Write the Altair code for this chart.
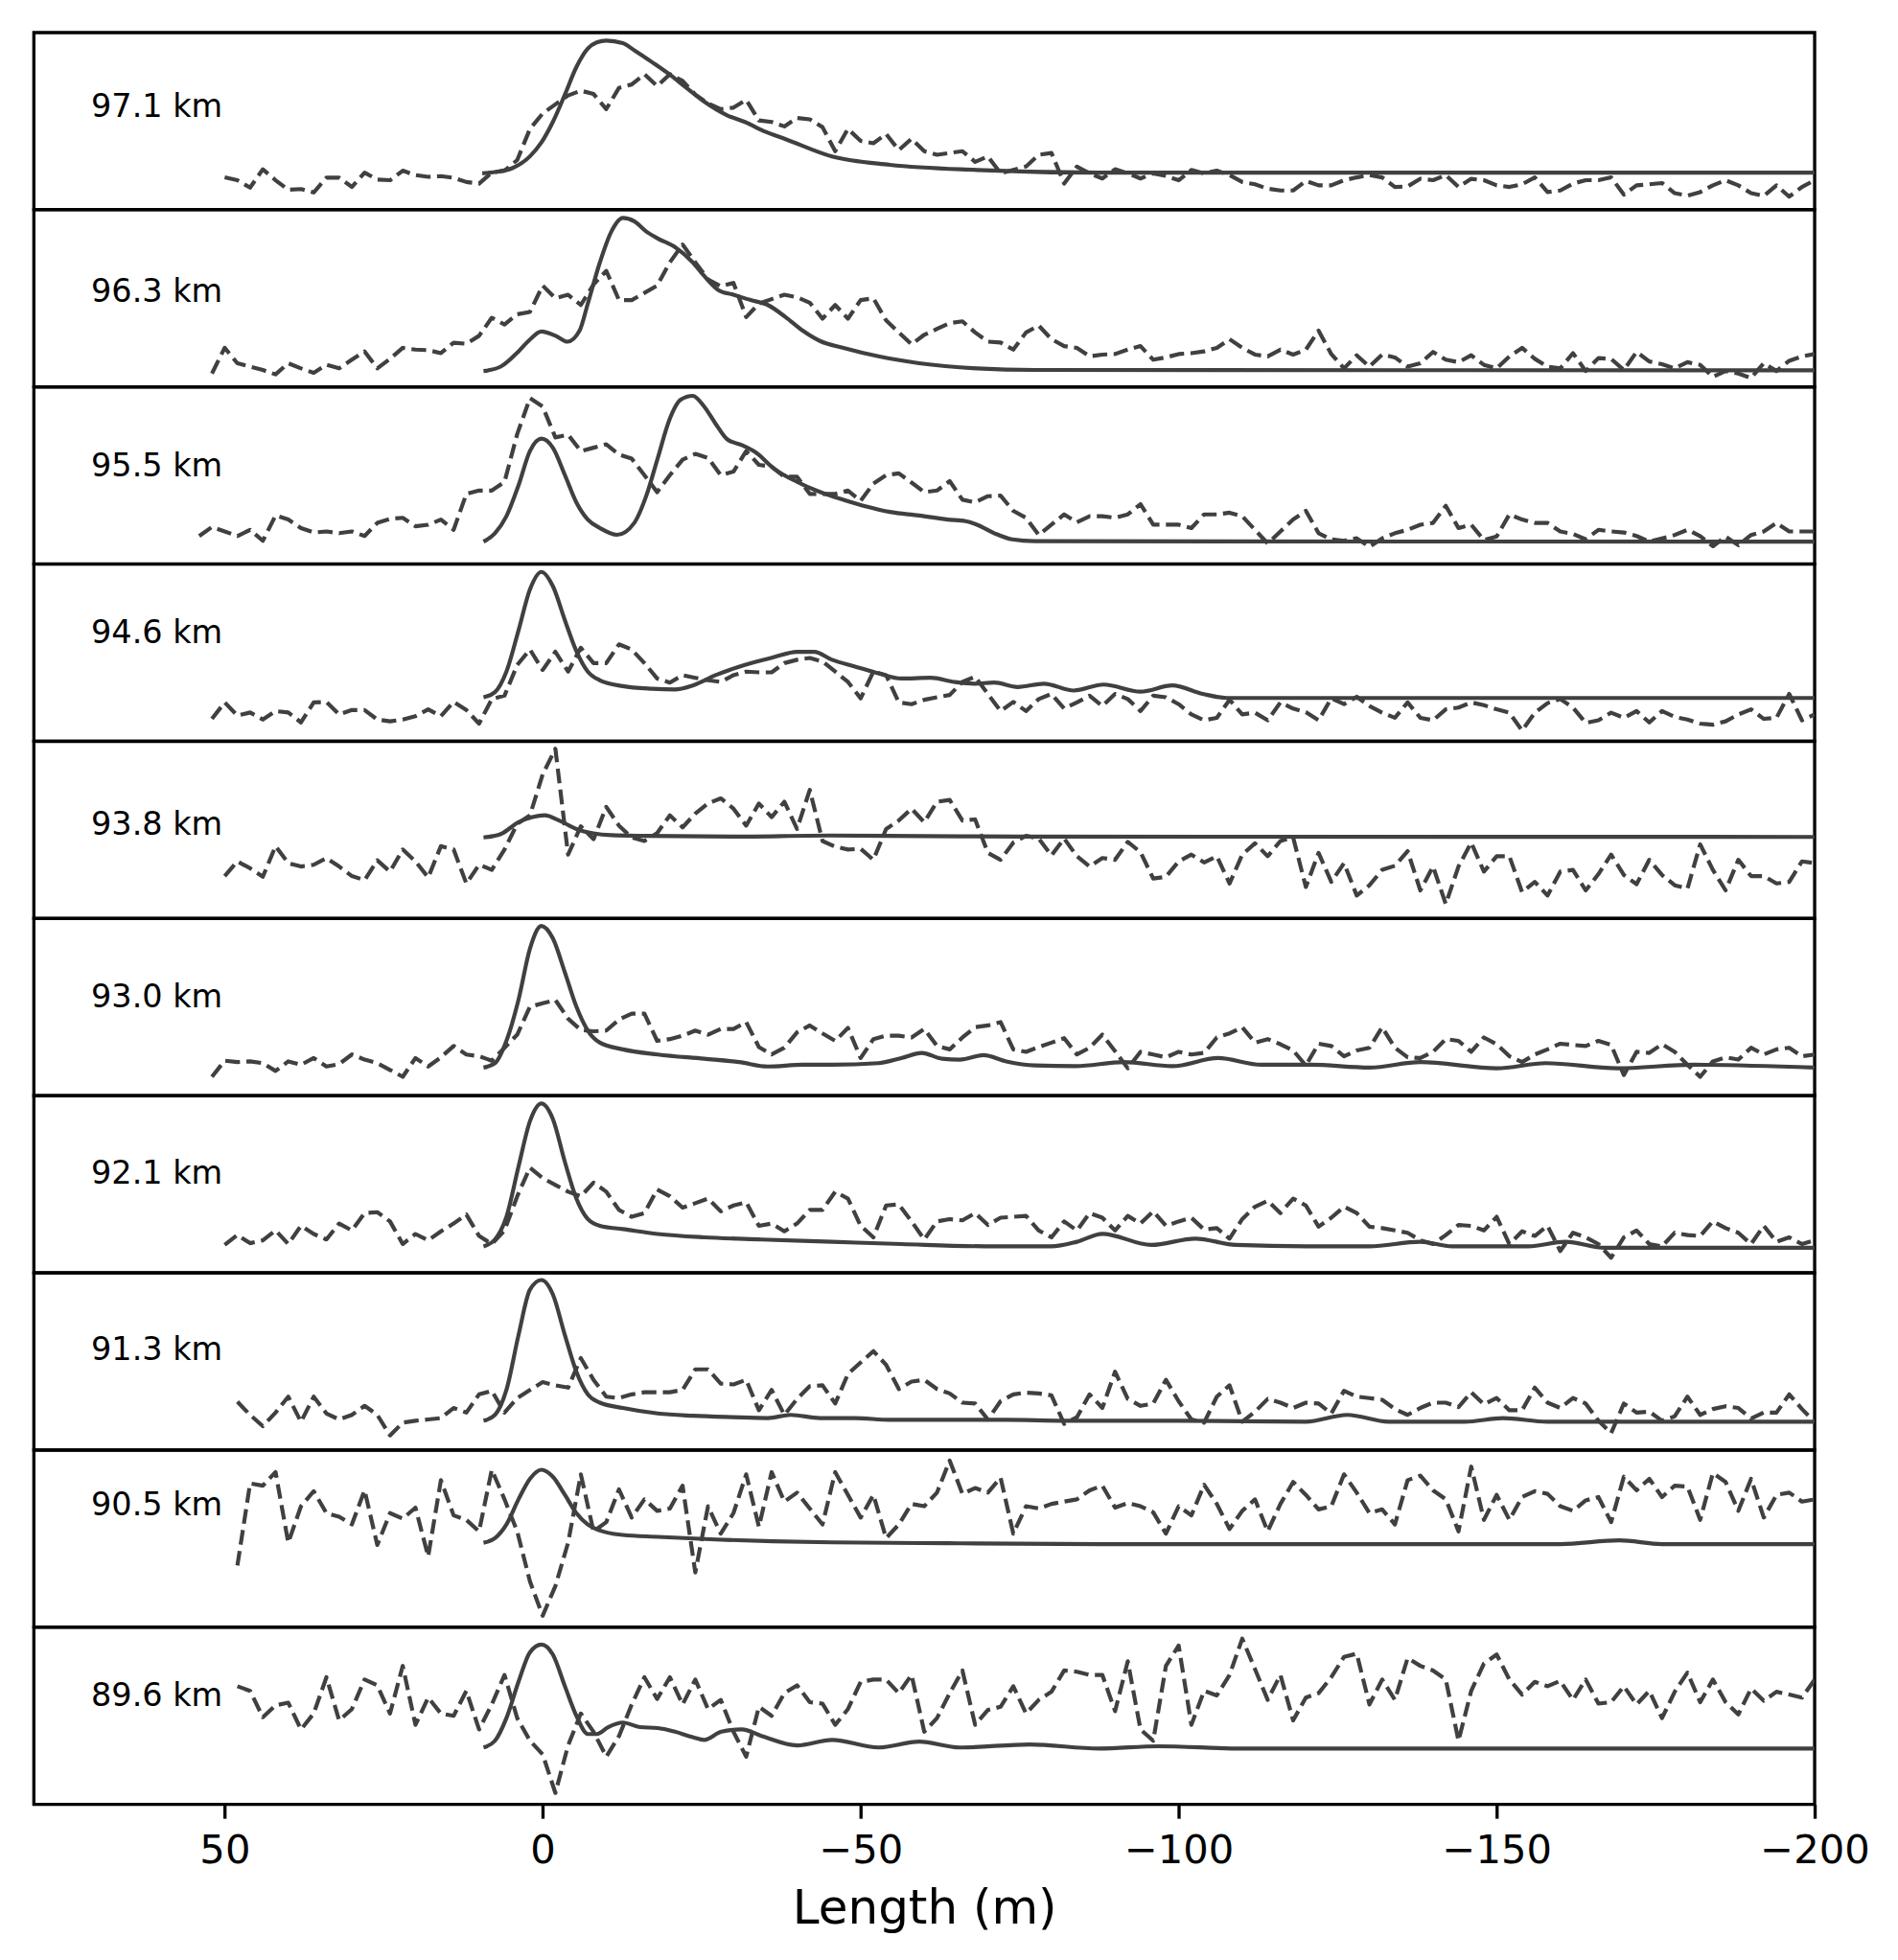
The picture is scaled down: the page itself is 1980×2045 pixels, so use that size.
import altair as alt
import pandas as pd

# ---------------- data ----------------
LABELS = ["97.1 km", "96.3 km", "95.5 km", "94.6 km", "93.8 km",
          "93.0 km", "92.1 km", "91.3 km", "90.5 km", "89.6 km"]
LABEL_HEIGHT = [58, 53.5, 55, 61, 52.5, 55, 55.6, 56, 68.8, 61]
LABEL_X = 71

# dashed (measured) profiles, sampled every 2 m starting at DASH_START
DASH_START = [50, 52, 54, 52, 50, 52, 50, 48, 48, 48]
DASH_STEP = 2

DASH_971 = [18.2, 16.6, 12.4, 22.8, 16.6, 11.2, 11.6, 9.7, 18, 18, 12.8, 20.9, 17, 16.6, 22, 19.5, 18.5, 18.9, 18, 15.6,
            14.7, 20.9, 22, 28, 45.6, 54.3, 59.5, 64.5, 67.2, 65.3, 56.8, 68.8, 70.7, 76.5, 69.8, 76.5, 72.7, 65, 60, 56.8,
            57.6, 62, 50.4, 49.5, 47, 51.8, 51, 46.6, 33, 45.6, 38.8, 37.5, 42.7, 33.6, 40, 33, 31, 32, 33, 27,
            30, 20.5, 22.4, 24.3, 31, 32, 14.7, 24.3, 20.5,
            17.6, 22.8, 20.5, 17.6, 20.5, 19, 16.6, 22.4, 20.5, 22, 19.5, 15.6, 14.3, 11.8, 10.8, 10.8, 16.2, 13.7, 13.7, 16.6,
            18.2, 19.5, 18.2, 12.8, 13.1, 17.4, 16.6, 19.5, 12.8, 17.4, 16.6, 13.7, 12.8, 14.3, 18.2, 9.9, 10.8, 14.7, 16.6, 16.6,
            18.2, 8.5, 13.7, 14.3, 15, 9.3, 7.9, 9.9, 13.7, 16.6, 13.7, 9.3, 7.7, 13.7, 7.3, 12.8, 16.6]

DASH_963 = [7.5, 22, 13.3, 11.4, 9.5, 7, 13.3, 10.4, 7.9, 12.4, 10.4, 15.3, 20, 10.4, 15.8, 22, 21, 20.7, 19, 24.9,
            24.3, 28.8, 39, 35.2, 41, 42.3, 57.2, 50, 52, 46.2, 57.8, 65.5, 49, 49, 53, 57.2, 70.3, 80.4, 70.3, 60.7,
            56.8, 58.7, 39.4, 47, 49.5, 52, 50.6, 47.5, 38.5, 46.2, 38.5, 49, 50, 37.5, 30.7, 24, 29.4, 32.7, 36, 37,
            30.7, 25.5, 25, 21, 30.7, 34.6, 26.9, 23, 22, 17.2,
            18.2, 18.5, 21, 23, 15.3, 16.6, 18.5, 19, 20, 22, 26.9, 22, 18.2, 17.2, 21, 18.2, 21, 31.7, 18.5, 10.4,
            17.8, 11.4, 18.2, 16.6, 11.4, 13.3, 19.7, 15.3, 13.9, 17.8, 12.4, 10.4, 17.2, 22, 15.8, 11.4, 10.4, 19, 8.9, 16.2,
            15.8, 9.5, 19.7, 14.3, 12.8, 10.4, 13.9, 12.4, 5.6, 8.9, 7.5, 5, 13.3, 8.9, 14.7, 17.2, 18.5]

DASH_955 = [15.8, 20.9, 18.4, 15.8, 19.3, 13.1, 27.4, 25.1, 20.3, 17.8, 18.4, 17.4, 18.4, 15.8, 23.2, 25.5, 26.1, 21.3, 22.2, 25.1,
            19.3, 39.6, 41.5, 41.5, 46.4, 73.4, 93.7, 88.9, 71.5, 73, 63.8, 65.7, 67.6, 61.8, 59.5, 50.2, 40.6, 50.2, 58.9, 62.2,
            59.9, 50.2, 52.2, 63.8, 56, 55, 49.3, 49.3, 39.6, 39.6, 39.6, 41.5, 35.7, 45.4, 50.2, 51.2, 46, 40.6, 41.5, 46.8,
            36.3, 34.8, 38.3, 38.6, 30, 26.1, 16.4, 22.2, 28, 23.6, 27,
            27, 26.1, 28, 33.8, 22.2, 22.2, 22.2, 20.3, 28, 28, 29, 27, 19.3, 11.6, 18.4, 25.1, 30, 17.4, 13.9, 13.1,
            14.5, 9.7, 14.5, 17.4, 19.3, 22.2, 23.2, 32.9, 20.3, 22.2, 13.5, 15.5, 28, 25.1, 23.2, 23.2, 18.4, 17, 13.9, 19.3,
            18.4, 17.8, 15.8, 12.6, 14.5, 16.4, 19.3, 15.8, 10, 15.5, 10.6, 16.4, 18.4, 23.2, 18.4, 18.4, 18.4]

DASH_946 = [12.6, 21.9, 14.5, 16.2, 12.2, 17, 16.2, 10.6, 21.9, 22.2, 15.1, 17.6, 17.6, 12.2, 11.2, 12.2, 14.1, 18, 14.1, 22.2,
            17.6, 9.9, 23.8, 25.7, 43.1, 51.8, 40.2, 50.5, 39.3, 52.8, 44.1, 44.1, 54.7, 51.8, 44.1, 35.4, 33.1, 37.3, 35.8, 34.4,
            33.5, 37.3, 39.3, 38.9, 38.9, 44.1, 46, 47, 45, 39.3, 33.5, 24.2, 39.3, 37.3, 21.9, 20.9, 23.4, 24.8, 26.1, 33.5,
            36.4, 26.7, 17, 22.2, 17, 23.8, 26.7, 18.4, 21.9, 25.7,
            19.9, 26.7, 23.8, 17, 25.7, 24.8, 20.9, 15.1, 11.8, 13.2, 23.4, 15.1, 16.1, 11.8, 21.9, 18.4, 16.4, 11.8, 24.2, 20.9,
            25.1, 19.9, 16.1, 13.2, 21.9, 13.2, 11.8, 18, 19, 21.9, 20.3, 18, 16.1, 6, 16.1, 21.5, 23.8, 19, 10.3, 11.8,
            16.1, 13.2, 17, 10.6, 17, 13.7, 12.2, 9.9, 9.3, 11.2, 15.1, 18, 12.6, 13.2, 26.7, 11.8, 15.1]

DASH_938 = [23.9, 32.2, 28.3, 23.5, 40.8, 31.2, 29.3, 30.3, 34.1, 29.3, 23.9, 21.6, 32.8, 26.4, 38.9, 32.2, 23.1, 40.8, 38.9, 19.7,
            30.3, 27.4, 38.9, 53.4, 58.2, 81.3, 95.8, 36, 52, 44.7, 63, 52.4, 45.7, 43.7, 48.2, 58.2, 51.4, 59.2, 64.9, 67.8,
            62, 52.4, 64.9, 57.2, 65.9, 50.5, 72.6, 43.7, 40.5, 38.9, 39.3, 33.1, 50.5, 55.3, 62, 54.3, 65.9, 66.9, 55.3, 55.9,
            37, 33.1, 42.8, 46.6, 45.1, 35.5, 45.1, 35.1, 29.3,
            34.1, 33.1, 43.2, 37.4, 22.5, 23.5, 32.2, 36, 31.6, 35.1, 19.7, 36, 42.4, 35.1, 43.7, 45.7, 17.7, 37, 20.6, 31.2,
            12.9, 18.7, 27.4, 29.7, 38, 15.8, 29.3, 8.1, 29.3, 42.8, 26.4, 35.1, 35.1, 14.8, 20.6, 12.9, 26.4, 27.4, 15.8, 25,
            36, 24.5, 19.3, 33.1, 24.5, 18.7, 16.8, 41.8, 27.4, 15.8, 33.1, 23.9, 23.9, 19.7, 20.6, 32.2, 31.2]

DASH_930 = [10.6, 19.7, 18.9, 19.3, 18.3, 13.9, 19.3, 17.4, 21.2, 16.4, 17.8, 23.2, 20.3, 18.3, 14.5, 10.6, 21.2, 16.4, 21.6, 28,
            23.2, 22.2, 19.7, 27, 34.4, 50.2, 52.1, 54, 43.4, 37, 36.3, 36.7, 42.9, 46.3, 46.3, 30.9, 31.9, 33.8, 36.7, 34.4,
            37.6, 37.6, 41.5, 27.4, 23.2, 27, 35.7, 39.6, 35.1, 30.9, 38.2, 21.2, 31.9, 33.8, 33.8, 32.8, 37.6, 28, 26.1, 32.8,
            38.6, 39.6, 41.5, 26.1, 24.7, 27.4, 29.9, 32.4, 23.2, 27,
            34.4, 25.1, 15.4, 24.7, 23.2, 21.6, 24.7, 23.2, 24.1, 32.8, 35.1, 38.6, 29.9, 31.9, 29, 25.5, 17, 29.3, 28, 22.2,
            25.5, 27, 38.6, 27, 21.6, 21.2, 24.7, 31.9, 30.9, 24.7, 32.8, 29, 22.2, 18.9, 23.2, 26.1, 29.3, 28.6, 28, 30.9,
            28.6, 11.6, 24.7, 24.1, 29, 24.7, 17.4, 10.6, 19.3, 21.6, 20.3, 27, 23.2, 26.1, 27, 22.2, 23.2]

DASH_921 = [15.7, 21.3, 16.7, 18.3, 23.9, 16.2, 26.5, 21.9, 18.8, 27.8, 23.9, 33.7, 34.2, 29, 16.2, 21.9, 18.3, 23.4, 27.8, 32.9,
            20.8, 16.2, 23.9, 43.2, 59.4, 53.5, 49.6, 45.8, 43.2, 50.9, 45.8, 35.5, 31.6, 33.7, 47, 43.2, 36.8, 39.3, 41.9, 34.7,
            38, 39.8, 26.5, 27.8, 23.4, 27.8, 35.5, 35.5, 45.8, 41.9, 26.5, 20, 38, 38.6, 29, 18.8, 29, 30.3, 29.6, 33.7,
            27, 31.1, 31.6, 32.1, 23.9, 20, 29, 23.9, 33.7,
            31.1, 23.9, 32.1, 27.8, 34.7, 26.5, 29, 31.1, 24.4, 25.2, 19.3, 30.3, 37.3, 40.6, 33.7, 41.9, 38, 26, 31.1, 37.3,
            33.7, 26, 25.2, 23.9, 22.6, 18.3, 16.2, 21.3, 27, 26.5, 23.9, 31.6, 16.2, 23.4, 20.8, 26.5, 12.3, 22.6, 20, 16.2,
            8.5, 20, 23.9, 16.2, 14.9, 22.6, 21.3, 20.8, 29, 25.2, 22.6, 16.2, 26.5, 17.5, 20, 16.2, 18.3]

DASH_913 = [27.2, 19.8, 13.4, 21.1, 30.1, 15.9, 30.1, 20.6, 17.2, 19.8, 24.9, 19.8, 8.2, 15.4, 16.5, 17.2, 18, 23.7, 21.1, 31.4,
            33.4, 21.1, 29.3, 33.9, 38.3, 36.5, 35.2, 51.9, 39.6, 30.1, 29.3, 31.4, 32.6, 32.6, 32.6, 33.9, 45.5, 45.5, 37.5, 37,
            39.6, 22.4, 33.9, 19.8, 28.8, 36, 36.5, 26.2, 42.9, 49.4, 55.8, 48.1, 34.4, 38.6, 39.6, 34.4, 31.9, 26.7, 26.2, 17.2,
            27.5, 31.4, 32.4, 31.9, 30.8, 14.7, 18.5, 31.4,
            23.7, 44.2, 28.8, 24.9, 26.2, 39.6, 27.5, 17.2, 15.4, 30.1, 36.5, 15.9, 21.6, 28.8, 26.7, 23.7, 26.7, 26.2, 20.6, 33.4,
            30.1, 29.3, 28.3, 23.1, 19.8, 23.7, 26.7, 26.7, 24.2, 32.6, 25.7, 29.3, 22.4, 22.4, 35.2, 26.7, 23.7, 29.3, 26.2, 16.5,
            9.5, 26.2, 21.1, 21.6, 16.5, 19, 30.1, 19.8, 23.1, 24.7, 23.7, 17.7, 21.1, 21.1, 31.4, 23.1, 15.9]

DASH_905 = [34.8, 81.2, 79.9, 87.6, 47.7, 68.3, 76.8, 64.4, 62.4, 58, 77.3, 46.4, 64.4, 61.3, 67.5, 39.9, 83, 63.1, 60.6, 54.1,
            88.9, 72.2, 54.1, 25.8, 6.4, 23.2, 47.7, 86.3, 54.1, 59.3, 77.8, 61.9, 72.2, 65.7, 67, 79.9, 30.9, 68.3, 52.8, 64.4,
            86.3, 56.7, 87.6, 70.9, 76, 67, 58, 87.6, 74.7, 61.9, 74.7, 50.3, 58, 69.6, 68.3, 76, 94.1, 75.3, 78.6, 76,
            84.5, 52.8, 68.3, 67, 69.6, 70.9, 72.2, 77.3,
            79.9, 67.5, 70.1, 68.3, 64.9, 52.8, 68.3, 63.1, 80.4, 69.6, 55.4, 65.7, 72.2, 54.1, 69.6, 82, 74.7, 66.5, 68.3, 86.3,
            76, 64.4, 66.5, 58, 83, 85.6, 77.3, 72.2, 54.1, 90.7, 60.6, 74.7, 60.6, 73.5, 76.8, 75.3, 68.3, 65.7, 71.6, 73.5,
            59.3, 85, 77.3, 83.8, 73.5, 79.9, 79.4, 60.6, 87.1, 82, 65.7, 83.8, 61.9, 74.7, 76, 70.9, 72.2]

DASH_896 = [66.7, 64.1, 49.2, 55.9, 57.4, 42.3, 51.3, 71.8, 47.4, 53.8, 70.5, 67.2, 51.3, 78.2, 44.9, 60.3, 51.3, 50, 64.1, 42.3,
            56.4, 73.1, 48.7, 35.9, 28.2, 6.4, 33.3, 51.3, 41, 26.9, 38.5, 56.4, 71.8, 59.5, 71.8, 56.4, 70.5, 53.8, 59, 41,
            26.9, 55.1, 50, 62.8, 67.2, 57.7, 56.9, 44.9, 53.8, 69.2, 70.5, 70.5, 62.8, 73.1, 41, 48.7, 62.8, 75.6, 44.9, 53.3,
            55.1, 66.7, 51.3, 59, 63.6, 75.6, 74.9, 73.1,
            73.1, 52.6, 80.8, 42.3, 35.9, 78.2, 89.7, 44.9, 64.1, 61.5, 73.1, 93.6, 76.4, 59, 73.1, 47.4, 60.3, 62.8, 71.8, 83.3,
            85.1, 56.4, 70.5, 59, 82.6, 78.2, 75.6, 70.5, 35.9, 64.1, 79.5, 84.6, 70.5, 62, 69.2, 66.7, 69.7, 59, 70.5, 56.9,
            57.7, 66.7, 56.4, 64.1, 48.7, 63.6, 74.4, 57.7, 70.5, 57.7, 50.8, 65.4, 58.5, 63.6, 62, 60.3, 70.5]

# solid (model) profiles
SOLID_X_971 = [9.5, 7, 4.8, 2, 0.2, -1.6, -3.5, -5.3, -7.1, -8.5, -10, -12.6, -14.4, -17.2, -19.9, -22.6, -25.4, -29,
               -31.8, -35, -38.2, -45.5, -54.6, -68.3, -87.5, -200]
SOLID_Y_971 = [20.5, 21.5, 23.4, 30.1, 37.9, 49.5, 65, 80.5, 91, 94.5, 95.5, 94, 90, 83.3, 76.5, 68.8, 61, 53.3,
               49.5, 44, 39.8, 30, 25.3, 22.4, 20.9, 20.9]

SOLID_X_963 = [9.3, 6.6, 3.8, 2, 0.2, -2.1, -3.9, -5.8, -7.1, -9, -10.8, -12.6, -14.4, -16.3, -18.1, -20.8, -23.6, -25.4,
               -27.7, -30, -32.7, -35.4, -38.2, -40.9, -43.6, -47.3, -52.8, -59.2, -68.3, -77.4, -200]
SOLID_Y_963 = [8.9, 11.4, 20, 26.7, 31.2, 28.7, 25.5, 31.7, 47, 70.3, 87.7, 95.4, 93.5, 87.7, 83.8, 79, 70.3, 62.6,
               54.5, 52, 49, 46.2, 39.4, 31.7, 25.9, 22, 17.2, 13.3, 10.4, 9.5, 9.3]

SOLID_X_955 = [9.3, 7.5, 5.7, 3.8, 2, 0.2, -1.6, -3.5, -5.3, -7.1, -9, -11.7, -14.4, -16.3, -18.1, -19.9, -21.7, -23.6,
               -25.4, -27.2, -29, -31.3, -33.6, -36.3, -40, -43.7, -47.3, -50.9, -54.6, -59.2, -63.7, -66.5, -68.3, -71,
               -73.8, -77.4, -200]
SOLID_Y_955 = [12.6, 17.4, 27, 44.4, 63.8, 70.8, 65.7, 50.2, 34.8, 25.1, 20.3, 16.5, 23.2, 38.6, 59.9, 81.2, 92.8, 95,
               88.9, 79.2, 70.5, 67.2, 62.8, 54.1, 46.4, 40.6, 36.3, 32.5, 29.4, 27.4, 25.1, 24.2, 22.2, 17.4,
               13.9, 12.9, 12.6]

SOLID_X_946 = [9.3, 7.5, 5.7, 3.8, 2, 0.2, -1.6, -3.5, -5.3, -7.1, -9, -12.6, -17.2, -20.8, -23.6, -27.2, -31.8, -36.3,
               -40, -42.7, -45.5, -49.1, -52.8, -56.4, -61, -64.7, -67.9, -71, -74.7, -78.8, -83.5, -88.2, -94, -99,
               -103.8, -107.6, -200]
SOLID_Y_946 = [24.8, 27.7, 39.3, 62.5, 85.7, 95.6, 87.6, 68.3, 50.9, 39.3, 34.4, 31.1, 29.6, 29.2, 31.5, 37.3, 43.1, 47.4,
               50.5, 50.5, 46, 42.2, 38.3, 35.4, 35.8, 33.5, 32.5, 33.1, 30.6, 32.5, 28.6, 32, 28, 31.5,
               26.7, 24.4, 24.4]

SOLID_X_938 = [9.3, 6.6, 3.8, 1.6, -0.3, -2.6, -5.3, -8, -10.8, -16.3, -30, -45, -60, -75, -200]
SOLID_Y_938 = [45.7, 47.6, 54.3, 57.2, 58.2, 55.3, 50.5, 48, 47, 46.6, 46.2, 46.8, 46.5, 46.2, 46]

SOLID_X_930 = [9.3, 7.5, 5.7, 3.8, 2, 0.2, -1.6, -3.5, -5.3, -7.1, -9, -12.6, -18.1, -25.4, -30.9, -35.4, -40.9, -45.5,
               -52.8, -56.4, -59.6, -62.8, -65.6, -69.3, -72.9, -77.4, -83.8, -91.4, -99, -106.2, -113, -120.7, -130,
               -138, -150, -157.7, -169, -181, -200]
SOLID_Y_930 = [15.8, 18.3, 30.9, 54.1, 83, 95.8, 88.8, 69.5, 50.2, 36.7, 29.9, 26.1, 23.2, 20.8, 18.9, 16.4, 17.4, 17.4,
               18.3, 21.2, 24.1, 20.8, 20.3, 22.8, 19.3, 17, 16.6, 18.9, 16.6, 21.2, 17.4, 17.4, 15.8,
               18.9, 15.4, 18.3, 15.4, 17.4, 15.8]

SOLID_X_921 = [9.3, 7.5, 5.7, 3.8, 2, 0.2, -1.6, -3.5, -5.3, -7.1, -9, -12.6, -18.1, -25.4, -34.4, -45.5, -56.4, -71,
               -80, -84, -88, -95.7, -102.6, -109, -120, -130, -138, -143, -155, -160.8, -167, -200]
SOLID_Y_921 = [14.9, 18.8, 31.6, 59.9, 85.6, 95.6, 86.9, 62.5, 41.9, 30.3, 26.5, 24.7, 21.9, 20, 18.8, 17.5, 16.2, 14.9,
               14.9, 17.5, 22, 15.7, 19.3, 15.7, 14.9, 14.9, 17.5, 14.9, 14.9, 17.5, 14.1, 14.1]

SOLID_X_913 = [9.3, 7.5, 5.7, 3.8, 2, 0.2, -1.6, -3.5, -5.3, -7.1, -9, -12.6, -18.1, -23.6, -29.9, -35.4, -39, -43.6,
               -49.1, -54.6, -63.7, -72.9, -82, -100, -120, -126.5, -133, -145, -151, -158, -200]
SOLID_Y_913 = [16.5, 19.8, 33.9, 64.8, 90.5, 96, 87.9, 64.8, 44.2, 31.4, 26.7, 23.7, 20.6, 19.3, 18.5, 18, 19.8, 18,
               18, 17, 17, 17, 16.5, 16.5, 15.9, 19.8, 15.9, 15.9, 18, 15.9, 15.9]

SOLID_X_905 = [9.3, 7.5, 5.7, 3.8, 2, 0.2, -1.6, -3.5, -5.3, -7.1, -9, -12.6, -18.1, -27.2, -36.3, -45.5, -63.7, -88,
               -160, -169.3, -176, -200]
SOLID_Y_905 = [47.7, 50.3, 58, 72.2, 83.8, 88.9, 85, 74.7, 64.4, 58, 54.6, 52.1, 51, 49.5, 48.5, 47.9, 47.4, 46.9,
               46.9, 49, 46.9, 46.9]

SOLID_X_896 = [9.3, 7.5, 5.7, 3.8, 2, 0.2, -1.6, -3.5, -5.3, -7.1, -8.5, -10.3, -12.6, -15.3, -18.1, -20.8, -23.6, -25.4,
               -28.1, -31.3, -34.5, -40, -45.5, -52.8, -59.2, -65.6, -76.6, -87.5, -96.8, -110, -200]
SOLID_Y_896 = [32.1, 35.9, 48.7, 69.2, 85.9, 90.3, 84.6, 66.7, 50, 39.7, 39.7, 43.6, 46.2, 43.6, 43.1, 41, 37.9, 36.4,
               41, 42.3, 38.5, 33.3, 36.4, 32.1, 35.4, 32.1, 33.8, 31.5, 32.8, 31.5, 31.5]

DASHES = [DASH_971, DASH_963, DASH_955, DASH_946, DASH_938, DASH_930, DASH_921, DASH_913, DASH_905, DASH_896]
SOLID_X = [SOLID_X_971, SOLID_X_963, SOLID_X_955, SOLID_X_946, SOLID_X_938,
           SOLID_X_930, SOLID_X_921, SOLID_X_913, SOLID_X_905, SOLID_X_896]
SOLID_Y = [SOLID_Y_971, SOLID_Y_963, SOLID_Y_955, SOLID_Y_946, SOLID_Y_938,
           SOLID_Y_930, SOLID_Y_921, SOLID_Y_913, SOLID_Y_905, SOLID_Y_896]

TICKS = [50, 0, -50, -100, -150, -200]
X_DOMAIN = [-200, 80]

# ---------------- style ----------------
W = 1859
H = 184.8
LINE = "#404040"
LW = 4.17
FONT = "DejaVu Sans"


def panel(i):
    last = i == len(LABELS) - 1
    xs = alt.Scale(domain=X_DOMAIN, reverse=True, nice=False, zero=False)
    ys = alt.Scale(domain=[0, 100], nice=False, zero=False)
    if last:
        ax = alt.Axis(values=TICKS, title="Length (m)", grid=False, domain=False,
                      ticks=True, tickSize=14.6, tickWidth=3.33, tickColor="black",
                      labelFontSize=41.7, labelColor="black", labelFont=FONT,
                      labelBaseline="alphabetic", labelPadding=46.1,
                      labelFlush=False, labelOverlap=False,
                      labelExpr="datum.value < 0 ? '\u2212' + format(-datum.value, 'd') : format(datum.value, 'd')",
                      titleFontSize=50, titleFont=FONT, titleFontWeight="normal",
                      titleColor="black", titleBaseline="alphabetic", titleY=124)
    else:
        ax = None

    dash = DASHES[i]
    dash_df = pd.DataFrame({"x": [DASH_START[i] - DASH_STEP * k for k in range(len(dash))],
                            "y": dash})
    solid_df = pd.DataFrame({"x": SOLID_X[i], "y": SOLID_Y[i]})
    lab_df = pd.DataFrame({"x": [LABEL_X], "y": [LABEL_HEIGHT[i]], "t": [LABELS[i]]})

    dashed = alt.Chart(dash_df).mark_line(
        color=LINE, strokeWidth=LW, strokeDash=[15.4, 6.7], strokeCap="butt",
        strokeJoin="round", clip=True
    ).encode(
        x=alt.X("x:Q", scale=xs, axis=ax),
        y=alt.Y("y:Q", scale=ys, axis=None),
        order=alt.Order("x:Q", sort="descending"),
    )
    solid = alt.Chart(solid_df).mark_line(
        color=LINE, strokeWidth=LW, interpolate="monotone", strokeJoin="round", clip=True
    ).encode(
        x=alt.X("x:Q", scale=xs, axis=ax),
        y=alt.Y("y:Q", scale=ys, axis=None),
        order=alt.Order("x:Q", sort="descending"),
    )
    label = alt.Chart(lab_df).mark_text(
        align="left", baseline="middle", font=FONT, fontSize=33.5, color="black"
    ).encode(
        x=alt.X("x:Q", scale=xs, axis=ax),
        y=alt.Y("y:Q", scale=ys, axis=None),
        text="t:N",
    )
    return alt.layer(dashed, solid, label).properties(width=W, height=H)


chart = alt.vconcat(*[panel(i) for i in range(len(LABELS))], spacing=0, bounds="flush").resolve_scale(
    x="independent", y="independent"
).resolve_axis(x="independent", y="independent").properties(
    padding={"left": 25.35, "top": 23.35, "right": 20, "bottom": 10},
    background="white",
).configure(
    font=FONT
).configure_view(
    stroke="black", strokeWidth=3.33
)

chart.save("out.html", embed_options={"renderer": "svg", "actions": False})
